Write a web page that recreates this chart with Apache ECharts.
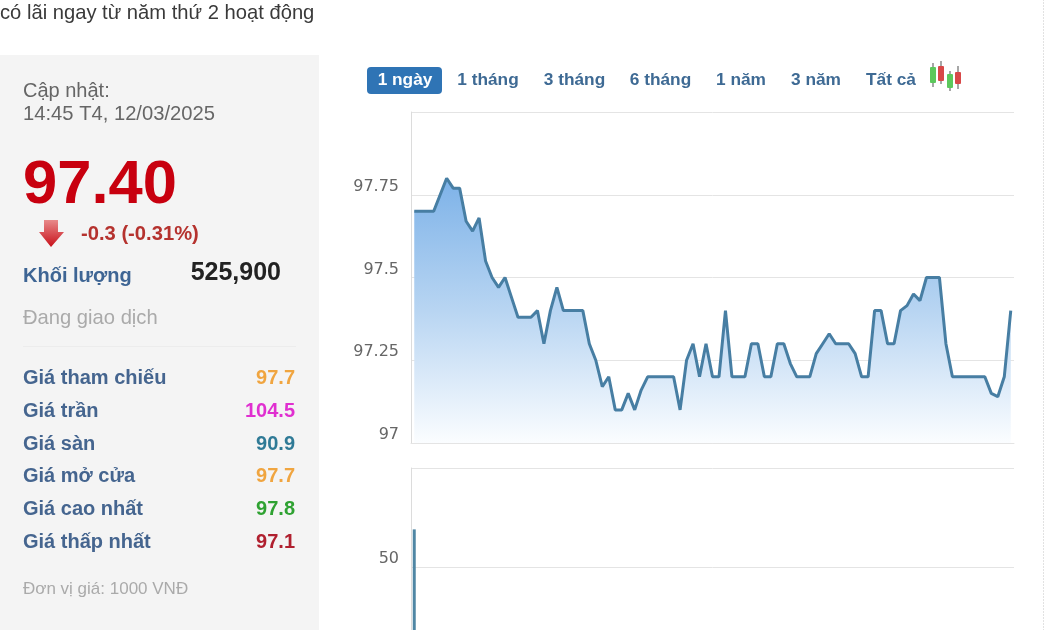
<!DOCTYPE html>
<html>
<head>
<meta charset="utf-8">
<style>html,body{margin:0;padding:0;background:#fff;overflow:hidden}#c{width:1050px;height:630px}</style>
<script src="https://cdn.jsdelivr.net/npm/echarts@6/dist/echarts.min.js"></script>
</head>
<body>
<div id="c"></div>
<script>
const prices = [97.7,97.7,97.7,97.7,97.75,97.8,97.77,97.77,97.67,97.64,97.68,97.55,97.5,97.47,97.5,97.44,97.38,97.38,97.38,97.4,
97.3,97.4,97.47,97.4,97.4,97.4,97.4,97.3,97.25,97.17,97.2,97.1,97.1,97.15,97.1,97.16,97.2,97.2,97.2,97.2,
97.2,97.1,97.25,97.3,97.2,97.3,97.2,97.2,97.4,97.2,97.2,97.2,97.3,97.3,97.2,97.2,97.3,97.3,97.24,97.2,
97.2,97.2,97.27,97.3,97.33,97.3,97.3,97.3,97.27,97.2,97.2,97.4,97.4,97.3,97.3,97.4,97.415,97.45,97.43,97.5,
97.5,97.5,97.3,97.2,97.2,97.2,97.2,97.2,97.2,97.15,97.14,97.2,97.4];
// Only the first volume bar reaches the visible part of the picture; the others are cropped off.
const volumes = [69];
const categories = prices.map((_, i) => String(i));
const priceTicks = {min: 97, max: 98, step: 0.25};
const volumeTicks = {min: 0, max: 100, step: 50};
const rangeLabels = ['1 ngày','1 tháng','3 tháng','6 tháng','1 năm','3 năm','Tất cả'];
const infoLabels = ['Giá tham chiếu','Giá trần','Giá sàn','Giá mở cửa','Giá cao nhất','Giá thấp nhất'];
const infoValues = ['97.7','104.5','90.9','97.7','97.8','97.1'];
const infoColors = ['#f0a540','#e02fd0','#2f7a96','#f0a540','#2fa232','#b0202f'];

const FONT = '"Liberation Sans", Arial, sans-serif';
const AXIS_FONT = '"DejaVu Sans", sans-serif';
const txt = (s, x, y, size, color, weight, align) => ({
  type: 'text', x, y, silent: true,
  style: {text: s, fill: color, font: (weight || 'normal') + ' ' + size + 'px ' + FONT, textAlign: align || 'left', textVerticalAlign: 'middle'}
});
const rect = (x, y, w, h, fill, r) => ({type: 'rect', silent: true, shape: {x, y, width: w, height: h, r: r || 0}, style: {fill}});

const graphics = [
  rect(0, 55, 319, 575, '#f4f4f4'),
  txt('có lãi ngay từ năm thứ 2 hoạt động', 0, 13, 20.2, '#3a3a3a'),
  txt('Cập nhật:', 23, 91, 20, '#666'),
  txt('14:45 T4, 12/03/2025', 23, 114, 20.2, '#666'),
  txt('97.40', 23, 186, 61.5, '#c8000f', 'bold'),
  {type: 'polygon', silent: true, shape: {points: [[44,220],[58,220],[58,232],[64,232],[51,247],[39,232],[44,232]]},
   style: {fill: new echarts.graphic.LinearGradient(0,0,0,1,[{offset:0,color:'#e88a8a'},{offset:1,color:'#c8101a'}])}},
  txt('-0.3 (-0.31%)', 81, 234, 20.2, '#b5322e', 'bold'),
  txt('Khối lượng', 23, 276, 20, '#3e6594', 'bold'),
  txt('525,900', 281, 273, 25, '#222', 'bold', 'right'),
  txt('Đang giao dịch', 23, 318.5, 20.2, '#aaa'),
  rect(23, 346, 273, 1, '#ececec'),
  txt('Đơn vị giá: 1000 VNĐ', 23, 589, 17, '#aaa'),
  rect(367, 67, 75, 27, '#2f74b5', 4),
  {type: 'rect', silent: true, shape: {x: 1043.5, y: 0, width: 0, height: 630}, style: {stroke: '#e2e2e2', lineDash: [1, 2], lineWidth: 1}}
];
infoLabels.forEach((l, i) => {
  const y = 378.5 + i * 32.8;
  graphics.push(txt(l, 23, y, 20, '#45658f', 'bold'));
  graphics.push(txt(infoValues[i], 295, y, 20, infoColors[i], 'bold', 'right'));
});
const rangeX = [405, 488, 574.5, 660.5, 741, 816, 891];
rangeLabels.forEach((l, i) => {
  graphics.push(txt(l, rangeX[i], 80, 17.3, i === 0 ? '#fff' : '#3e6a94', 'bold', 'center'));
});
[[933,63,87,67,83,'#5cc85c'],[941,61,84,66,81,'#d84848'],[950,71,91,74,88,'#5cc85c'],[958,66,89,72,84,'#d84848']].forEach(c => {
  graphics.push(rect(c[0]-0.75, c[1], 1.5, c[2]-c[1], '#8a8a8a'));
  graphics.push(rect(c[0]-3, c[3], 6, c[4]-c[3], c[5], 1));
});

const GRID_LINE = '#e4e4e4';
const chart = echarts.init(document.getElementById('c'), null, {renderer: 'canvas'});
chart.setOption({
  animation: false,
  backgroundColor: '#fff',
  graphic: {elements: graphics},
  grid: [
    {left: 411, top: 112, width: 603, height: 331, outerBoundsMode: 'none'},
    {left: 411, top: 468, width: 603, height: 198, outerBoundsMode: 'none'}
  ],
  xAxis: [0, 1].map(g => ({
    type: 'category', gridIndex: g, data: categories, boundaryGap: true,
    axisLine: {show: true, lineStyle: {color: GRID_LINE, width: 1}},
    axisTick: {show: false}, axisLabel: {show: false}, splitLine: {show: false}
  })),
  yAxis: [
    {gridIndex: 0, type: 'value', min: priceTicks.min, max: priceTicks.max, interval: priceTicks.step,
     axisLine: {show: true, lineStyle: {color: '#dcdcdc'}}, axisTick: {show: false},
     splitLine: {show: true, lineStyle: {color: GRID_LINE}},
     axisLabel: {margin: 12, color: '#666', fontFamily: AXIS_FONT, fontSize: 16, verticalAlign: 'bottom',
       formatter: v => v === priceTicks.max ? '' : String(v), showMaxLabel: true, showMinLabel: true}},
    {gridIndex: 1, type: 'value', min: volumeTicks.min, max: volumeTicks.max, interval: volumeTicks.step,
     axisLine: {show: true, lineStyle: {color: '#dcdcdc'}}, axisTick: {show: false},
     splitLine: {show: true, lineStyle: {color: GRID_LINE}},
     axisLabel: {margin: 12, color: '#666', fontFamily: AXIS_FONT, fontSize: 16, verticalAlign: 'bottom',
       formatter: v => v === volumeTicks.step ? String(v) : ''}}
  ],
  series: [
    {type: 'line', xAxisIndex: 0, yAxisIndex: 0, data: prices, symbol: 'none', smooth: false,
     lineStyle: {color: '#477ea3', width: 3}, itemStyle: {color: '#477ea3'},
     areaStyle: {origin: 'start', opacity: 1, color: new echarts.graphic.LinearGradient(0,0,0,1,[
       {offset: 0, color: '#7db2e8'},{offset: 0.5, color: '#b8d5f2'},{offset: 1, color: '#fbfdff'}])}},
    {type: 'bar', xAxisIndex: 1, yAxisIndex: 1, data: volumes, barWidth: 3,
     itemStyle: {color: '#4f86a4'}}
  ]
});
</script>
</body>
</html>
